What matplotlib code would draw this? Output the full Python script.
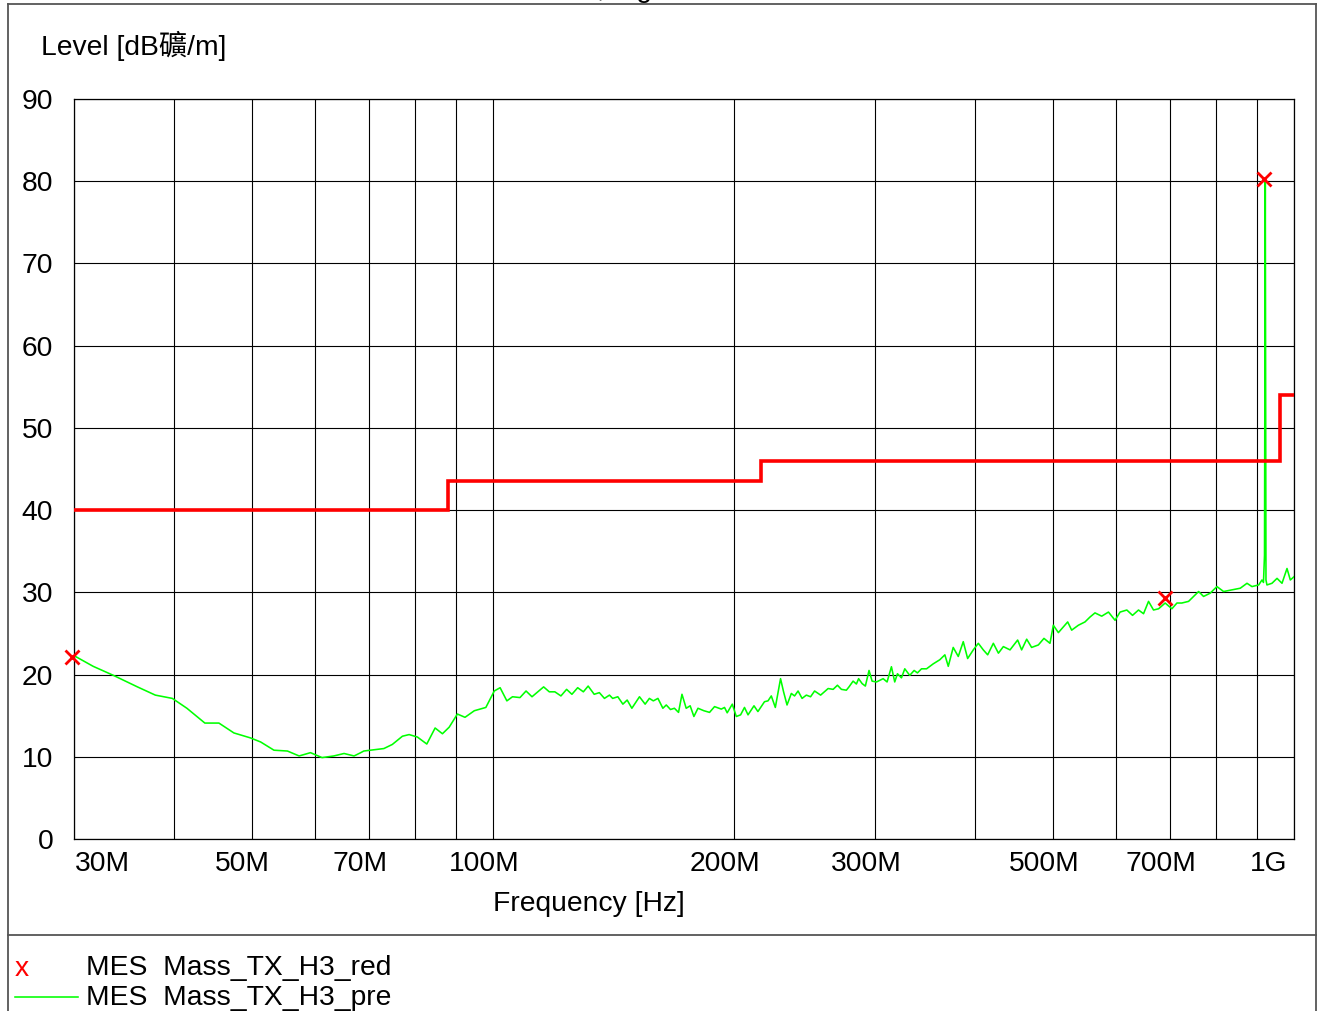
import matplotlib
matplotlib.use('Agg')
import matplotlib.pyplot as plt
from matplotlib.transforms import blended_transform_factory, ScaledTranslation
from matplotlib.lines import Line2D
from matplotlib.ticker import NullLocator

plt.rcParams['font.family'] = ['Liberation Sans', 'Noto Sans CJK TC', 'DejaVu Sans']

# ---------------- data ----------------
freq_mhz = [
    30.0, 31.7, 33.6, 36.0, 37.9, 39.8, 41.5, 43.7, 45.5, 47.5, 49.8, 51.3, 53.3, 55.4, 57.3,
    59.2, 61.2, 63.3, 65.2, 67.1, 68.4, 69.0, 73.1, 74.9, 77.1, 78.6, 80.5, 82.7, 84.7, 86.5,
    88.2, 90.3, 92.3, 94.8, 98.0, 100.4, 102.1, 104.1, 105.8, 108.1, 110.0, 111.9, 115.7, 117.6,
    119.5, 121.6, 123.6, 125.5, 127.6, 129.7, 131.5, 133.8, 135.8, 137.8, 139.8, 141.1, 143.2,
    145.3, 147.1, 149.1, 152.4, 154.9, 156.8, 158.6, 160.7, 163.0, 164.6, 166.6, 168.5, 170.5,
    172.2, 174.3, 176.3, 178.2, 180.3, 183.4, 186.4, 189.1, 192.8, 194.6, 196.1, 199.0, 201.3,
    203.8, 206.1, 208.2, 211.8, 214.2, 218.3, 220.5, 222.6, 225.2, 228.6, 230.6, 232.9, 235.8,
    238.0, 240.4, 243.2, 246.2, 249.2, 252.1, 256.5, 262.1, 265.9, 269.2, 272.3, 276.2, 278.3,
    281.6, 284.3, 286.1, 289.0, 291.7, 294.8, 297.4, 301.2, 307.0, 310.5, 314.4, 317.4, 319.9,
    323.6, 326.7, 331.4, 335.6, 338.8, 342.8, 347.8, 354.5, 361.3, 366.6, 370.2, 375.5, 381.0,
    386.5, 391.4, 397.8, 403.6, 409.4, 414.6, 421.4, 427.6, 433.7, 442.1, 451.9, 457.1, 463.8,
    470.4, 479.6, 487.4, 495.9, 500.7, 508.0, 515.3, 521.8, 527.8, 538.1, 548.4, 556.4, 564.4,
    575.4, 586.7, 597.9, 606.6, 618.5, 628.7, 639.6, 648.9, 658.3, 667.8, 677.6, 690.5, 704.0,
    714.3, 724.4, 738.6, 749.2, 760.2, 771.1, 786.0, 801.3, 816.8, 836.6, 856.9, 873.6, 886.2,
    903.5, 912.0, 916.0, 918.7, 920.8, 922.6, 925.2, 938.6, 952.4, 966.1, 980.1, 989.5, 1000.0,
]
level_dbuv = [
    22.3, 21.0, 19.9, 18.5, 17.5, 17.1, 15.9, 14.1, 14.1, 12.9, 12.3, 11.8, 10.8, 10.7, 10.1,
    10.5, 9.9, 10.1, 10.4, 10.1, 10.5, 10.7, 11.0, 11.5, 12.5, 12.7, 12.4, 11.55, 13.5, 12.8,
    13.6, 15.2, 14.8, 15.6, 16.0, 18.0, 18.4, 16.8, 17.3, 17.2, 18.0, 17.3, 18.5, 17.9,
    17.9, 17.4, 18.2, 17.6, 18.4, 17.9, 18.6, 17.6, 17.8, 17.1, 17.5, 17.1, 17.3,
    16.4, 16.9, 15.9, 17.3, 16.4, 17.1, 16.8, 17.1, 15.9, 16.3, 15.75, 15.9, 15.4,
    17.6, 15.9, 16.2, 14.9, 15.9, 15.6, 15.4, 16.1, 15.8, 16.0, 15.35, 16.4, 14.9,
    15.1, 16.0, 15.1, 16.2, 15.5, 16.7, 16.8, 17.4, 16.0, 19.5, 17.9, 16.3, 17.7,
    17.4, 18.0, 17.1, 17.5, 17.3, 18.0, 17.5, 18.3, 18.2, 18.7, 18.2, 18.1, 18.5,
    19.2, 18.85, 19.5, 18.9, 18.6, 20.5, 19.2, 19.1, 19.5, 19.1, 20.95, 19.1, 20.1,
    19.6, 20.7, 19.9, 20.5, 20.2, 20.7, 20.7, 21.3, 21.8, 22.4, 21.0, 23.3, 22.2,
    24.0, 21.95, 23.0, 23.8, 23.0, 22.4, 23.8, 22.6, 23.4, 23.0, 24.2, 23.0, 24.3,
    23.3, 23.6, 24.4, 23.8, 26.0, 25.1, 25.8, 26.4, 25.4, 26.0, 26.4, 27.0, 27.5,
    27.1, 27.6, 26.6, 27.6, 27.85, 27.2, 27.85, 27.4, 28.9, 27.85, 28.0, 28.7, 28.0,
    28.7, 28.7, 28.9, 29.5, 30.1, 29.5, 29.9, 30.7, 30.1, 30.3, 30.5, 31.1, 30.7,
    30.9, 31.5, 31.2, 34.5, 80.1, 31.5, 30.9, 31.1, 31.7, 31.1, 32.9, 31.5, 31.9,
]

limit_edges_mhz = [30, 88, 216, 960, 1000]
limit_values = [40, 43.5, 46, 54]

marker_freq_mhz = [29.8, 691.0, 917.0]
marker_level = [22.1, 29.3, 80.3]

grid_freqs = [30, 40, 50, 60, 70, 80, 90, 100, 200, 300, 400, 500, 600, 700, 800, 900, 1000]
xtick_pos = [30, 50, 70, 100, 200, 300, 500, 700, 1000]
xtick_labels = ['30M', '50M', '70M', '100M', '200M', '300M', '500M', '700M', '1G']
yticks = [0, 10, 20, 30, 40, 50, 60, 70, 80, 90]

legend_labels = ['MES  Mass_TX_H3_red', 'MES  Mass_TX_H3_pre']

# ---------------- figure ----------------
W, H = 1323, 1011
FS = 20.3
fig = plt.figure(figsize=(W / 100, H / 100), dpi=100)
ax = fig.add_axes([74 / W, 1 - 839 / H, (1294 - 74) / W, (839 - 99) / H])

ax.set_xscale('log')
ax.set_xlim(30, 1000)
ax.set_ylim(0, 90)
ax.set_xticks(grid_freqs)
ax.set_xticklabels([])
ax.xaxis.set_minor_locator(NullLocator())
ax.set_yticks(yticks)
ax.set_yticklabels([str(v) for v in yticks], fontsize=FS)
ax.tick_params(axis='both', length=0)
ax.tick_params(axis='y', pad=15)
ax.grid(True, color='black', linewidth=0.8)
ax.set_axisbelow(True)
for sp in ax.spines.values():
    sp.set_color('black')
    sp.set_linewidth(0.9)

# x tick labels (offset slightly left of their gridlines, as in the original)
trans = blended_transform_factory(ax.transData, ax.transAxes)
for pos, lab in zip(xtick_pos, xtick_labels):
    if pos == xtick_pos[0]:
        ha, dx = 'left', 1
    elif pos == xtick_pos[-1]:
        ha, dx = 'right', -7
    else:
        ha, dx = 'center', -9
    t = trans + ScaledTranslation(dx / 100, -12 / 100, fig.dpi_scale_trans)
    ax.text(pos, 0, lab, transform=t, ha=ha, va='top', fontsize=FS)

# data
ax.plot(freq_mhz, level_dbuv, color='#00ff00', linewidth=1.15, zorder=3)
ax.stairs(limit_values, limit_edges_mhz, baseline=None, color='#ff0000',
          linewidth=2.6, zorder=4)
ax.plot(marker_freq_mhz, marker_level, linestyle='none', marker='x', color='#ff0000',
        markersize=10.5, markeredgewidth=2.0, zorder=5, clip_on=False)

# axis labels
fig.text(41 / W, 1 - 46 / H, 'Level [dB礦/m]', fontsize=FS, ha='left', va='center')
fig.text(589 / W, 1 - 904 / H, 'Frequency [Hz]', fontsize=FS, ha='center', va='center')

# clipped header text at the very top (cut off in the original too)
fig.text(597 / W, 1 + 3 / H, ', Ing', fontsize=FS, ha='left', va='baseline')

# frame lines
fc = '#555555'
fig.add_artist(Line2D([8 / W, 8 / W], [0, 1 - 4 / H], color=fc, linewidth=1.3))
fig.add_artist(Line2D([1316 / W, 1316 / W], [0, 1 - 4 / H], color=fc, linewidth=1.3))
fig.add_artist(Line2D([8 / W, 1316 / W], [1 - 4 / H, 1 - 4 / H], color=fc, linewidth=1.3))
fig.add_artist(Line2D([8 / W, 1316 / W], [1 - 935 / H, 1 - 935 / H], color=fc, linewidth=1.3))

# legend
fig.text(22 / W, 1 - 969 / H, 'x', color='#ff0000', fontsize=FS, ha='center', va='center')
fig.text(86 / W, 1 - 975 / H, legend_labels[0], fontsize=FS, ha='left', va='baseline')
fig.add_artist(Line2D([15 / W, 78 / W], [1 - 997 / H, 1 - 997 / H], color='#00ff00', linewidth=1.15))
fig.text(86 / W, 1 - 1005 / H, legend_labels[1], fontsize=FS, ha='left', va='baseline')

fig.savefig('out.png', dpi=100)
